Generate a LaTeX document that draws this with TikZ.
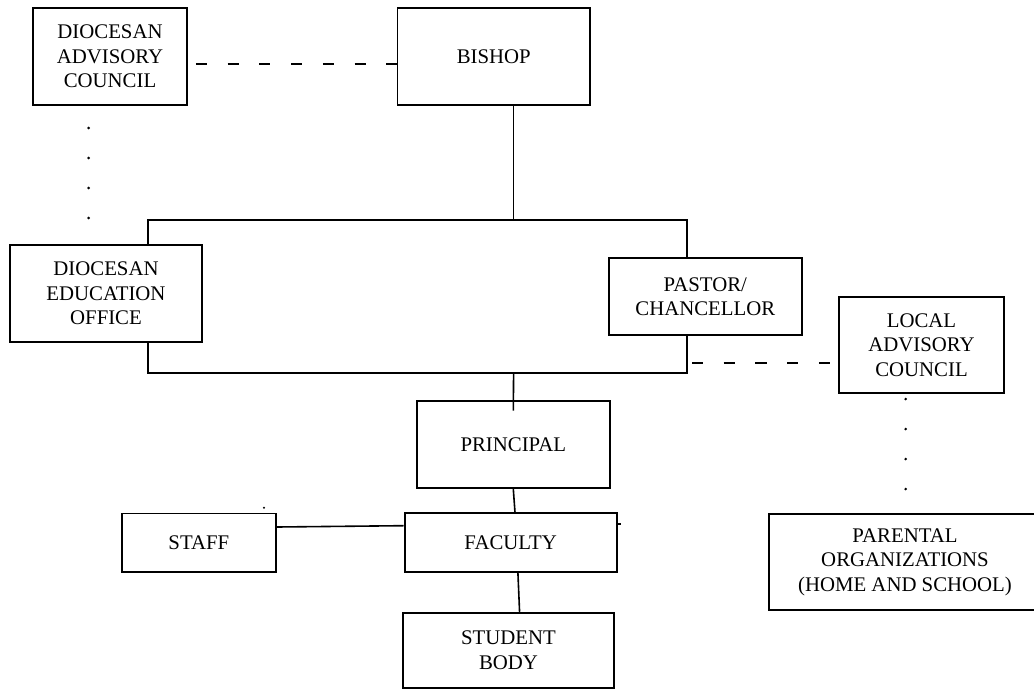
\documentclass[tikz,border=0pt]{standalone}
\usepackage{fontspec}
\setmainfont{Liberation Serif}
\usetikzlibrary{calc}
\begin{document}
\begin{tikzpicture}[x=0.75pt,y=-0.75pt,
  orgbox/.style={draw, line width=1.4pt, align=center, inner sep=0pt,
    font=\fontsize{15.6}{18.4}\selectfont},
  link/.style={line width=1.2pt},
  dashlink/.style={line width=1.2pt, dash pattern=on 8.3pt off 15.5pt},
  dotmark/.style={fill=black}]
\useasboundingbox (0,0) rectangle (1034,689);
\clip (0,0) rectangle (1034,689);
% nodes
\node[orgbox, minimum width=115.5pt, minimum height=72.75pt] (dac) at (110,56.5) {DIOCESAN\\ADVISORY\\COUNCIL};
\node[orgbox, minimum width=144.4pt, minimum height=72.75pt] (bishop) at (493.75,56.5) {BISHOP};
\node[orgbox, minimum width=144pt, minimum height=72.75pt] (deo) at (106,293.5) {DIOCESAN\\EDUCATION\\OFFICE};
\node[orgbox, minimum width=144.5pt, minimum height=57.75pt] (pastor) at (705.35,296.5) {PASTOR/\\CHANCELLOR};
\node[orgbox, minimum width=123.75pt, minimum height=72pt] (lac) at (921.5,345) {LOCAL\\ADVISORY\\COUNCIL};
\node[orgbox, minimum width=144.45pt, minimum height=65.25pt] (principal) at (513.3,444.5) {PRINCIPAL};
\node[orgbox, minimum width=115.3pt, minimum height=43.65pt] (staff) at (198.85,542.6) {STAFF};
\node[orgbox, minimum width=159.15pt, minimum height=44pt] (faculty) at (510.7,542.35) {FACULTY};
\node[orgbox, minimum width=158.25pt, minimum height=56.5pt] (student) at (508.5,650.35) {STUDENT\\BODY};
\node[orgbox, minimum width=204pt, minimum height=72pt] (parental) at (905,562) {PARENTAL\\ORGANIZATIONS\\(HOME AND SCHOOL)};
% bracket coordinates
\coordinate (top) at (513.6,220);
\coordinate (tl) at (148,220);
\coordinate (tr) at (686.7,220);
\coordinate (bl) at (148,373);
\coordinate (br) at (686.7,373);
\coordinate (bm) at (513.6,373);
\coordinate (ld) at (692,362.7);
% solid connectors
\draw[link] (top |- bishop.south) -- (top);
\draw[link] (deo.north -| tl) -- (tl) -- (tr) -- (tr |- pastor.north);
\draw[link] (deo.south -| bl) -- (bl) -- (br) -- (br |- pastor.south);
\draw[link] (bm) -- ([yshift=-8pt]principal.north);
\draw[link] (principal.south) -- ([xshift=3.2pt]faculty.north);
\draw[link] ([xshift=5.4pt]faculty.south) -- ([xshift=8.3pt]student.north);
\draw[link] ([yshift=11.7pt]staff.east) -- ([yshift=12.5pt]faculty.west);
% dashed connectors
\draw[dashlink] ([xshift=6pt,yshift=-5.5pt]dac.east) -- ([yshift=-5.5pt]bishop.west);
\draw[dashlink] (ld) -- (ld -| lac.west);
% dotted connectors
\foreach \yy in {128,158,188,218} \fill[dotmark] (88.6,\yy) circle (1.1pt);
\foreach \yy in {399,429,459,489} \fill[dotmark] (905.7,\yy) circle (1.1pt);
% stray marks
\fill[dotmark] (264,507.7) circle (0.8pt);
\draw[link] (faculty.east |- 0,524) -- ++(3,0);
\end{tikzpicture}
\end{document}
